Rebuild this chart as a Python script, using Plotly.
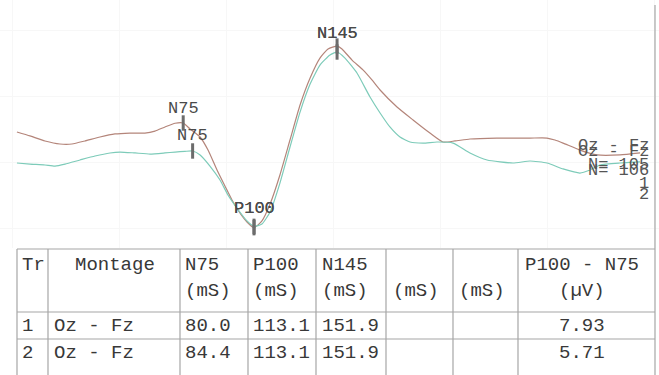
import plotly.graph_objects as go

# ---- VEP waveforms: latency (ms) and amplitude (µV, negative plotted upward) ----
t_tr1 = [2.3, 8.4, 15.4, 22.4, 28.0, 34.1, 41.1, 48.1, 55.1, 62.1, 66.8, 71.5, 76.2,
         80.0, 83.2, 87.9, 91.6, 95.8, 99.5, 102.8, 106.5, 109.8, 113.1, 116.8, 120.6,
         125.2, 129.9, 134.6, 139.3, 143.9, 147.7, 151.9, 154.2, 158.9, 164.0, 168.2,
         172.0, 179.9, 187.4, 195.3, 201.4, 207.0, 214.0, 226.6, 242.1, 250.0, 253.7,
         257.5, 265.4, 273.4, 284.1, 293.5]
v_tr1 = [-2.32, -2.02, -1.64, -1.41, -1.41, -1.64, -1.94, -2.17, -2.24, -2.24, -2.39,
         -2.70, -2.98, -3.00, -2.55, -1.94, -0.95, 0.56, 1.77, 2.83, 3.82, 4.50, 4.93,
         4.42, 3.14, 0.94, -1.71, -4.36, -6.41, -7.92, -8.61, -8.83, -8.61, -7.77,
         -7.02, -6.26, -5.50, -4.21, -3.23, -2.24, -1.56, -1.64, -1.79, -1.86, -1.86,
         -1.86, -1.71, -1.48, -0.95, -0.58, -0.58, -0.73]

t_tr2 = [2.3, 8.4, 15.4, 20.1, 24.8, 31.8, 38.8, 45.8, 50.5, 57.5, 64.5, 71.5, 76.2,
         80.8, 84.4, 87.9, 92.5, 97.2, 100.9, 105.1, 109.8, 113.1, 116.8, 120.6, 125.2,
         129.9, 134.6, 139.3, 143.9, 148.6, 151.9, 155.6, 161.2, 167.3, 172.0, 176.6,
         181.3, 186.0, 192.1, 198.6, 206.1, 214.0, 222.0, 234.1, 242.1, 250.0, 257.5,
         265.4, 270.1, 274.8, 284.1, 293.5]
v_tr2 = [0.03, 0.11, 0.18, 0.26, 0.11, -0.20, -0.50, -0.73, -0.80, -0.73, -0.65, -0.73,
         -0.80, -0.85, -0.88, -0.58, 0.26, 1.32, 2.45, 3.44, 4.42, 4.83, 4.65, 3.74,
         1.55, -1.18, -3.83, -5.95, -7.39, -8.15, -8.38, -7.92, -6.79, -4.97, -3.76,
         -2.70, -1.94, -1.56, -1.48, -1.56, -1.48, -0.73, -0.20, 0.03, -0.12, 0.03,
         0.48, 0.79, 0.56, 0.18, 0.03, -0.05]

# ---- Result table ----
trial = [1, 2]
montage = ["Oz - Fz", "Oz - Fz"]
sweeps = [105, 106]
n75_ms = [80.0, 84.4]
p100_ms = [113.1, 113.1]
n145_ms = [151.9, 151.9]
p100_n75_uv = [7.93, 5.71]

# peak amplitudes on each trace (µV)
n75_uv = [-3.00, -0.88]
p100_uv = [round(a + d, 2) for a, d in zip(n75_uv, p100_n75_uv)]
n145_uv = [-8.83, -8.38]

header_1 = ["Tr", "Montage", "N75", "P100", "N145", "", "", "P100 - N75"]
header_2 = ["", "", "(mS)", "(mS)", "(mS)", "(mS)", "(mS)", "(µV)"]

W, H = 659, 375
MONO = "Liberation Mono, Courier New, monospace"
COL_1, COL_2 = "#b4857a", "#7dcbb9"
MARK = "#6c6c6c"
GRID = "#a6a6a6"


def px(x):
    return x / W


def py(y):
    return 1 - y / H


fig = go.Figure()
for t, v, c in [(t_tr1, v_tr1, COL_1), (t_tr2, v_tr2, COL_2)]:
    fig.add_trace(go.Scatter(x=t, y=v, mode="lines",
                             line=dict(color=c, width=1.2, shape="spline", smoothing=0.5),
                             hoverinfo="skip", showlegend=False))

# peak markers and labels
peaks = [
    ("N75", n75_ms, n75_uv, [15, 15]),
    ("P100", p100_ms, p100_uv, [19, 18]),
    ("N145", n145_ms, n145_uv, [13, 19]),
]
for name, lat, amp, shifts in peaks:
    fig.add_trace(go.Scatter(x=lat, y=amp, mode="markers",
                             marker=dict(symbol="line-ns", size=11,
                                         line=dict(color=MARK, width=3)),
                             hoverinfo="skip", showlegend=False))
    for x, y, s in zip(lat, amp, shifts):
        fig.add_annotation(x=x, y=y, xref="x", yref="y", text=name, showarrow=False,
                           yshift=s, xanchor="center", yanchor="middle",
                           font=dict(family=MONO, size=17, color="#4a4a4a"))

# trace identifiers at the right end (overprinted, as the recorder stacks them)
right_labels = [(montage[0], 145.5), (montage[1], 151),
                (f"N= {sweeps[0]}", 164), (f"N= {sweeps[1]}", 171),
                (str(trial[0]), 184), (str(trial[1]), 194)]
for txt, y in right_labels:
    fig.add_annotation(x=px(651), y=py(y), xref="paper", yref="paper", text=txt,
                       showarrow=False, xanchor="right", yanchor="middle",
                       font=dict(family=MONO, size=17, color="#555555"))

shapes = []
# right border of the trace window
shapes.append(dict(type="line", xref="paper", yref="paper", x0=px(655), x1=px(655),
                   y0=py(5), y1=py(375), line=dict(color=GRID, width=1.2)))
# table rules
for y in [249, 312, 339]:
    shapes.append(dict(type="line", xref="paper", yref="paper", x0=px(17), x1=px(655),
                       y0=py(y), y1=py(y), line=dict(color=GRID, width=1.2)))
col_edges = [17, 48, 180, 248, 316, 386, 453, 518]
for x in col_edges:
    shapes.append(dict(type="line", xref="paper", yref="paper", x0=px(x), x1=px(x),
                       y0=py(249), y1=py(375), line=dict(color=GRID, width=1.2)))

# table text
col_x = [20, 115, 183, 251, 320, 391, 457, 582]
col_anchor = ["left", "center", "left", "left", "left", "left", "left", "center"]
rows = [(header_1, 265), (header_2, 291)]
for i in range(len(trial)):
    rows.append(([str(trial[i]), montage[i], f"{n75_ms[i]:.1f}", f"{p100_ms[i]:.1f}",
                  f"{n145_ms[i]:.1f}", "", "", f"{p100_n75_uv[i]:.2f}"], 326 + 26.5 * i))
for cells, y in rows:
    for j, txt in enumerate(cells):
        if not txt:
            continue
        x = col_x[j]
        if j == 1 and y > 300:
            x, anchor = 52, "left"
        else:
            anchor = col_anchor[j]
        fig.add_annotation(x=px(x), y=py(y), xref="paper", yref="paper", text=txt,
                           showarrow=False, xanchor=anchor, yanchor="middle",
                           font=dict(family=MONO, size=19, color="#383838"))

fig.update_layout(
    width=W, height=H, margin=dict(l=0, r=0, t=0, b=0),
    paper_bgcolor="white", plot_bgcolor="white",
    shapes=shapes,
    xaxis=dict(range=[-12 / 2.14, (W - 12) / 2.14], domain=[0, 1], showticklabels=False,
               showgrid=True, gridcolor="#f7f7f7", dtick=50, zeroline=False,
               showline=False, ticks=""),
    yaxis=dict(range=[6.47, -12.32], domain=[1 - 248 / H, 1], showticklabels=False,
               showgrid=True, gridcolor="#f7f7f7", dtick=5, zeroline=False,
               showline=False, ticks=""),
)

fig.write_html("out.html")
